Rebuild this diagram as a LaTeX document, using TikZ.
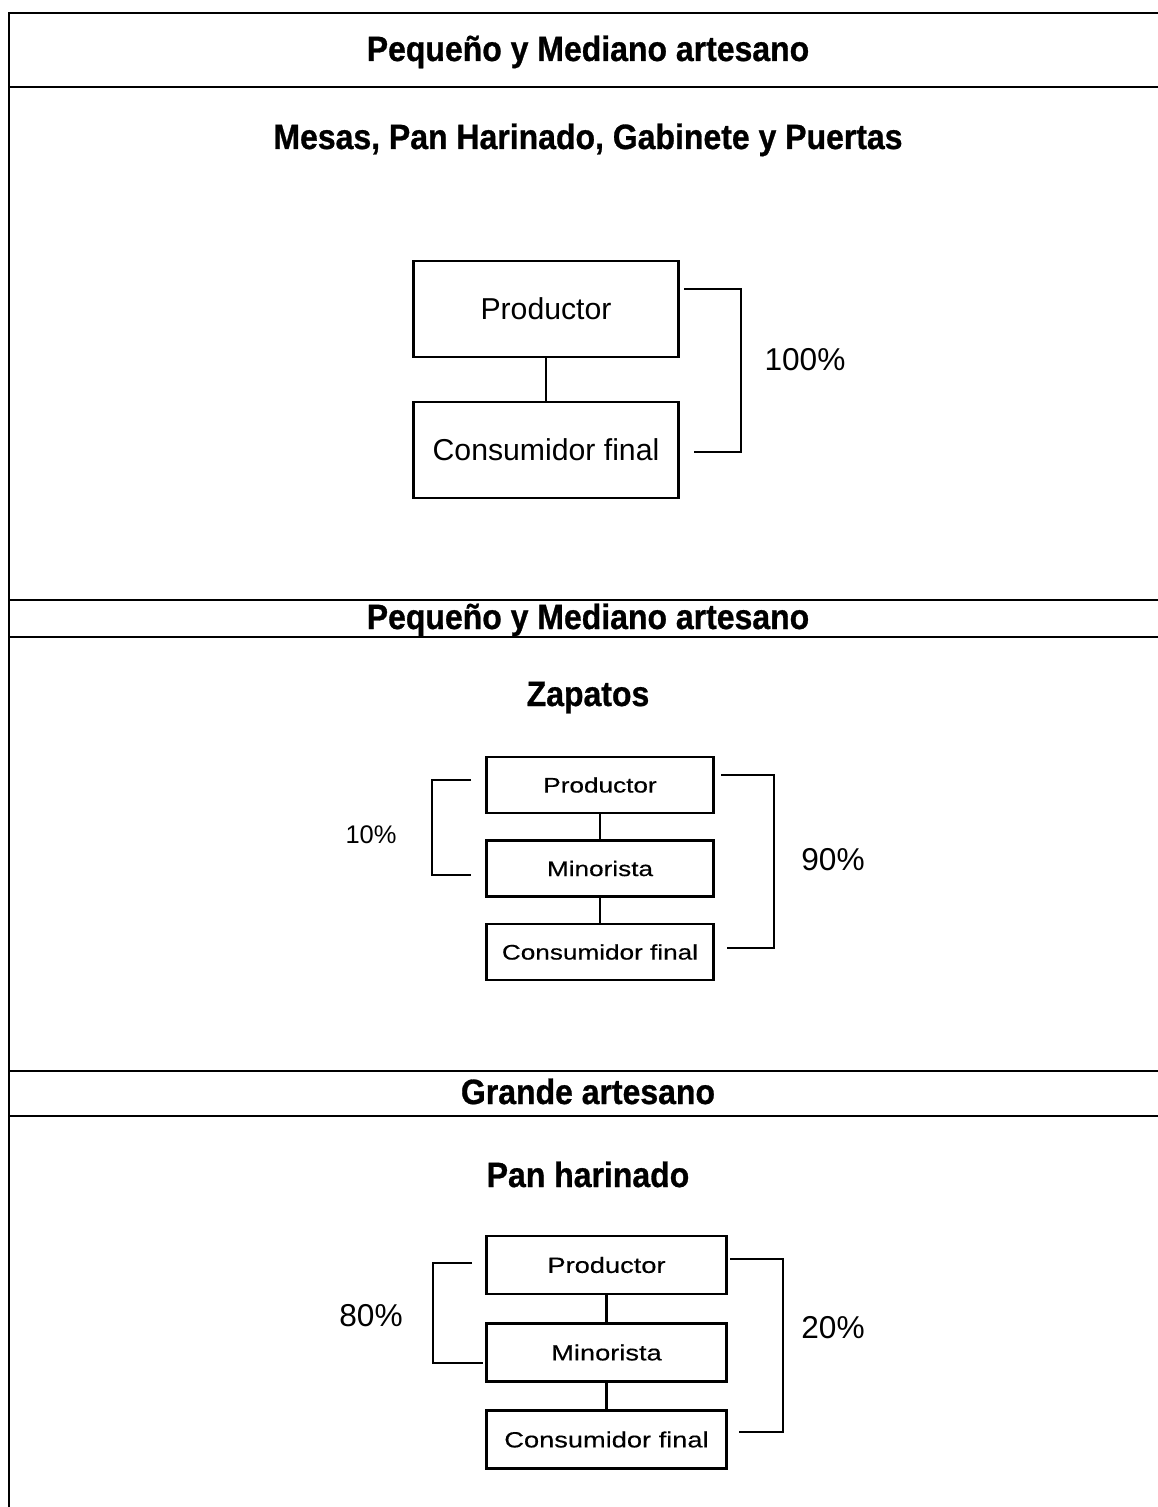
\documentclass[tikz,border=0pt]{standalone}
\usepackage{fontspec}
\setmainfont{Liberation Sans}
\newfontfamily\titlesans[FakeStretch=0.91,FakeBold=0.8]{Liberation Sans}
\newfontfamily\widesans[FakeStretch=1.24,FakeBold=0.4]{Liberation Sans}
\usetikzlibrary{positioning}

\begin{document}
\begin{tikzpicture}[x=0.02cm, y=-0.02cm,
    frame/.style={line width=1.1pt},
    title/.style={font=\titlesans\bfseries\fontsize{20}{24}\selectfont, anchor=base},
    bigbox/.style={draw, line width=1.2pt, minimum width=5.3cm, minimum height=1.92cm, inner sep=0pt, font=\fontsize{17.2}{20}\selectfont},
    smallbox/.style={draw, line width=1.2pt, minimum width=4.54cm, minimum height=1.12cm, inner sep=0pt, font=\widesans\fontsize{12}{14}\selectfont},
    lowbox/.style={smallbox, minimum width=4.8cm, minimum height=1.16cm, font=\widesans\fontsize{12.5}{15}\selectfont},
    link/.style={line width=1.2pt},
    bracket/.style={line width=0.8pt},
    pct/.style={font=\fontsize{18}{21}\selectfont}]
    \useasboundingbox (0,0) rectangle (1158,1507);
    % Frame and section rules
    \draw[frame] (1158,13) -- (9,13) -- (9,1507);
    \foreach \y in {87,600,637,1071,1116} {
        \draw[frame] (9,\y) -- (1158,\y);
    }
    % === TOP: Mesas, Pan Harinado, Gabinete y Puertas ===
    \node[title] (headA) at (588,61) {Pequeño y Mediano artesano};
    \node[title] (prodlineA) at (588,149) {Mesas, Pan Harinado, Gabinete y Puertas};
    \node[bigbox] (prodA) at (546,309) {Productor};
    \node[bigbox] (consA) at (546,450) {Consumidor final};
    \draw[link] (prodA) -- (consA);
    \coordinate (brA1) at (684,289);
    \coordinate (brA2) at (694,452);
    \draw[bracket] (brA1) -- (741,289) |- (brA2);
    \node[pct] (pctA) at (805,360) {100\%};
    % === MIDDLE: Zapatos ===
    \node[title] (headB) at (588,629) {Pequeño y Mediano artesano};
    \node[title] (prodlineB) at (588,706) {Zapatos};
    \node[smallbox] (prodB) at (600,785) {Productor};
    \node[smallbox] (minB) at (600,868.5) {Minorista};
    \node[smallbox] (consB) at (600,952) {Consumidor final};
    \draw[link] (prodB) -- (minB);
    \draw[link] (minB) -- (consB);
    \coordinate (blB1) at (471,780);
    \coordinate (blB2) at (471,875);
    \draw[bracket] (blB1) -- (432,780) |- (blB2);
    \coordinate (brB1) at (721,775);
    \coordinate (brB2) at (727,948);
    \draw[bracket] (brB1) -- (774,775) |- (brB2);
    \node[font=\fontsize{14.5}{17}\selectfont] (pctBl) at (371,835) {10\%};
    \node[pct] (pctBr) at (833,860) {90\%};
    % === BOTTOM: Pan harinado ===
    \node[title] (headC) at (588,1104) {Grande artesano};
    \node[title] (prodlineC) at (588,1187) {Pan harinado};
    \node[lowbox] (prodC) at (606.5,1265) {Productor};
    \node[lowbox] (minC) at (606.5,1352.5) {Minorista};
    \node[lowbox] (consC) at (606.5,1439.5) {Consumidor final};
    \draw[link] (prodC) -- (minC);
    \draw[link] (minC) -- (consC);
    \coordinate (blC1) at (472,1263);
    \coordinate (blC2) at (483,1363);
    \draw[bracket] (blC1) -- (433,1263) |- (blC2);
    \coordinate (brC1) at (730,1259);
    \coordinate (brC2) at (739,1432);
    \draw[bracket] (brC1) -- (783,1259) |- (brC2);
    \node[pct] (pctCl) at (371,1316) {80\%};
    \node[pct] (pctCr) at (833,1328) {20\%};
\end{tikzpicture}
\end{document}
